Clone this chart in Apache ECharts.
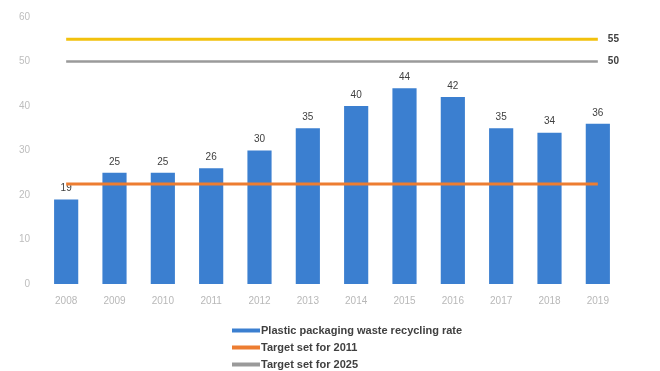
<!DOCTYPE html>
<html>
<head>
<meta charset="utf-8">
<script src="https://cdn.jsdelivr.net/npm/echarts@6/dist/echarts.min.js"></script>
<style>html,body{margin:0;padding:0;background:#fff;}#c{width:660px;height:371px;}</style>
</head>
<body>
<div id="c"></div>
<script>
const years = ['2008','2009','2010','2011','2012','2013','2014','2015','2016','2017','2018','2019'];
const recyclingRate = [19, 25, 25, 26, 30, 35, 40, 44, 42, 35, 34, 36];
const target2011 = [22.5, 22.5, 22.5, 22.5, 22.5, 22.5, 22.5, 22.5, 22.5, 22.5, 22.5, 22.5];
const target2025 = [50, 50, 50, 50, 50, 50, 50, 50, 50, 50, 50, 50];
const target2030 = [55, 55, 55, 55, 55, 55, 55, 55, 55, 55, 55, 55];
const yTicks = [0, 10, 20, 30, 40, 50, 60];

const chart = echarts.init(document.getElementById('c'));
chart.setOption({
  animation: false,
  backgroundColor: '#ffffff',
  grid: { left: 42, right: 38, top: 17, bottom: 87 },
  xAxis: {
    type: 'category', data: years, boundaryGap: true,
    axisLine: { show: false }, axisTick: { show: false },
    axisLabel: { color: '#b8b8b8', fontSize: 10, margin: 12, fontFamily: 'Liberation Sans' }
  },
  yAxis: {
    type: 'value', min: yTicks[0], max: yTicks[yTicks.length - 1], interval: 10,
    axisLine: { show: false }, axisTick: { show: false },
    splitLine: { show: false },
    axisLabel: { color: '#bdbdbd', fontSize: 10, margin: 12, fontFamily: 'Liberation Sans' }
  },
  legend: {
    orient: 'vertical', left: 232, top: 325, itemGap: 6, padding: 0, height: 60,
    itemWidth: 28, itemHeight: 4,
    data: [
      { name: 'Plastic packaging waste recycling rate', icon: 'rect' },
      { name: 'Target set for 2011', icon: 'rect' },
      { name: 'Target set for 2025', icon: 'rect' }
    ],
    textStyle: { color: '#404040', fontSize: 11, fontWeight: 'bold', fontFamily: 'Liberation Sans', padding: [0, 0, 0, -4] }
  },
  series: [
    {
      name: 'Plastic packaging waste recycling rate', type: 'bar', data: recyclingRate,
      barWidth: '50%',
      itemStyle: { color: '#3b7fd0' },
      label: { show: true, position: 'top', color: '#404040', fontSize: 10, distance: 6, fontFamily: 'Liberation Sans' }
    },
    {
      name: 'Target set for 2011', type: 'line', data: target2011,
      symbol: 'none', z: 5,
      lineStyle: { color: '#ed7d31', width: 3 }, itemStyle: { color: '#ed7d31' }
    },
    {
      name: 'Target set for 2025', type: 'line', data: target2025,
      symbol: 'none',
      lineStyle: { color: '#9a9a9a', width: 2.5 }, itemStyle: { color: '#9a9a9a' },
      endLabel: { show: true, color: '#404040', fontSize: 10, fontWeight: 'bold', distance: 10, fontFamily: 'Liberation Sans' }
    },
    {
      name: 'Target set for 2030', type: 'line', data: target2030,
      symbol: 'none',
      lineStyle: { color: '#f2c10d', width: 3 }, itemStyle: { color: '#f2c10d' },
      endLabel: { show: true, color: '#404040', fontSize: 10, fontWeight: 'bold', distance: 10, fontFamily: 'Liberation Sans' }
    }
  ]
});
</script>
</body>
</html>
